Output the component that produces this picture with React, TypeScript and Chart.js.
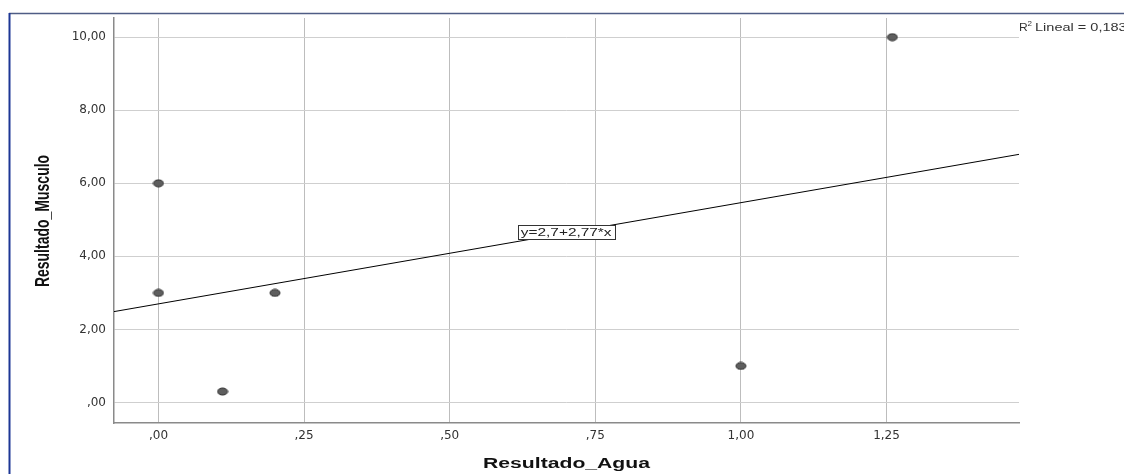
import React, { useEffect, useRef } from "react";
import { Chart, registerables } from "chart.js";

Chart.register(...registerables);

// Data
const aguaValues = [0, 0, 0.2, 0.11, 1.0, 1.26];
const musculoValues = [6, 3, 3, 0.3, 1.0, 10];

const xTicks = [0, 0.25, 0.5, 0.75, 1.0, 1.25];
const xTickLabels = [",00", ",25", ",50", ",75", "1,00", "1,25"];
const yTicks = [0, 2, 4, 6, 8, 10];
const yTickLabels = [",00", "2,00", "4,00", "6,00", "8,00", "10,00"];

const xRange = [-0.0764, 1.4775];
const yRange = [-0.561, 10.525];

const fitIntercept = 2.7;
const fitSlope = 2.77;
const fitLabel = "y=2,7+2,77*x";
const fitLabelAt = 0.7;
const r2Text = "Lineal = 0,183";

const xTitle = "Resultado_Agua";
const yTitle = "Resultado_Musculo";

function makeDot(): HTMLCanvasElement {
  const c = document.createElement("canvas");
  c.width = 12;
  c.height = 9;
  const g = c.getContext("2d")!;
  g.beginPath();
  g.ellipse(6, 4.5, 5, 3.5, 0, 0, Math.PI * 2);
  g.fillStyle = "#5e5e5e";
  g.fill();
  g.lineWidth = 1;
  g.strokeStyle = "#2c2c2c";
  g.stroke();
  return c;
}

const decor = {
  id: "decor",
  beforeDraw(chart: any) {
    const ctx = chart.ctx as CanvasRenderingContext2D;
    ctx.save();
    ctx.fillStyle = "#ffffff";
    ctx.fillRect(0, 0, chart.width, chart.height);
    ctx.lineWidth = 1.5;
    ctx.strokeStyle = "#4f5d85";
    ctx.beginPath();
    ctx.moveTo(9, 13.5);
    ctx.lineTo(chart.width, 13.5);
    ctx.stroke();
    ctx.lineWidth = 2;
    ctx.strokeStyle = "#1d3795";
    ctx.beginPath();
    ctx.moveTo(9.5, 13);
    ctx.lineTo(9.5, chart.height);
    ctx.stroke();
    ctx.restore();
  },
  afterDraw(chart: any) {
    const ctx = chart.ctx as CanvasRenderingContext2D;
    const area = chart.chartArea;
    const xs = chart.scales.x;
    const ys = chart.scales.y;

    // X title
    ctx.save();
    ctx.fillStyle = "#111";
    ctx.font = 'bold 14px "Liberation Sans"';
    const wX = ctx.measureText(xTitle).width;
    ctx.translate((area.left + area.right) / 2, 468);
    ctx.scale(167 / wX, 1);
    ctx.textAlign = "center";
    ctx.textBaseline = "alphabetic";
    ctx.fillText(xTitle, 0, 0);
    ctx.restore();

    // Y title
    ctx.save();
    ctx.fillStyle = "#111";
    ctx.font = 'bold 14px "Liberation Sans"';
    ctx.translate(49, 221);
    ctx.scale(1.4, 1);
    ctx.rotate(-Math.PI / 2);
    ctx.textAlign = "center";
    ctx.textBaseline = "alphabetic";
    ctx.fillText(yTitle, 0, 0);
    ctx.restore();

    // Equation box
    ctx.save();
    ctx.font = '11px "Liberation Sans"';
    const sx = 1.4;
    const tw = ctx.measureText(fitLabel).width * sx;
    const cx = xs.getPixelForValue(fitLabelAt);
    const cy = ys.getPixelForValue(fitIntercept + fitSlope * fitLabelAt) - 1;
    const bw = tw + 6;
    const bh = 14;
    ctx.fillStyle = "#fff";
    ctx.fillRect(Math.round(cx - bw / 2) + 0.5, Math.round(cy - bh / 2) + 0.5, Math.round(bw), bh);
    ctx.strokeStyle = "#333";
    ctx.lineWidth = 1;
    ctx.strokeRect(Math.round(cx - bw / 2) + 0.5, Math.round(cy - bh / 2) + 0.5, Math.round(bw), bh);
    ctx.fillStyle = "#222";
    ctx.translate(cx, cy + 1);
    ctx.scale(sx, 1);
    ctx.textAlign = "center";
    ctx.textBaseline = "middle";
    ctx.fillText(fitLabel, 0, 0);
    ctx.restore();

    // R² label
    ctx.save();
    ctx.fillStyle = "#333";
    ctx.textBaseline = "alphabetic";
    ctx.textAlign = "left";
    ctx.font = '11px "Liberation Sans"';
    ctx.save();
    ctx.translate(area.right, 31);
    ctx.scale(1.1, 1);
    ctx.fillText("R", 0, 0);
    ctx.restore();
    ctx.font = '8px "Liberation Sans"';
    ctx.fillText("2", area.right + 8.5, 26);
    ctx.font = '11px "Liberation Sans"';
    ctx.translate(area.right + 16, 31);
    ctx.scale(1.32, 1);
    ctx.fillText(r2Text, 0, 0);
    ctx.restore();
  },
};

export default function App() {
  const ref = useRef<HTMLCanvasElement | null>(null);

  useEffect(() => {
    if (!ref.current) return;
    const dot = makeDot();
    const points = aguaValues.map((x, i) => ({ x, y: musculoValues[i] }));
    const fitLine = xRange.map((x) => ({ x, y: fitIntercept + fitSlope * x }));

    const chart = new Chart(ref.current, {
      type: "scatter",
      data: {
        datasets: [
          {
            label: yTitle,
            data: points,
            pointStyle: dot as any,
            pointRadius: 5,
            backgroundColor: "#5e5e5e",
            borderColor: "#2c2c2c",
            order: 0,
          },
          {
            label: fitLabel,
            data: fitLine,
            showLine: true,
            borderColor: "#000",
            borderWidth: 1,
            pointRadius: 0,
            order: 1,
          } as any,
        ],
      },
      options: {
        responsive: false,
        animation: false,
        devicePixelRatio: 1,
        events: [],
        layout: { padding: { top: 18, right: 105, left: 0, bottom: 0 } },
        plugins: {
          legend: { display: false },
          tooltip: { enabled: false },
        },
        scales: {
          x: {
            type: "linear",
            min: xRange[0],
            max: xRange[1],
            afterBuildTicks: (s: any) => {
              s.ticks = xTicks.map((v) => ({ value: v }));
            },
            afterFit: (s: any) => {
              s.height = 51;
            },
            grid: { color: "#bdbdbd", lineWidth: 1, drawTicks: false },
            border: { display: true, color: "#8a8a8a", width: 1.5 },
            ticks: {
              padding: 6,
              color: "#333",
              font: { family: "DejaVu Sans", size: 12 },
              autoSkip: false,
              maxRotation: 0,
              callback: (_v: any, i: number) => xTickLabels[i] ?? "",
            },
          },
          y: {
            type: "linear",
            min: yRange[0],
            max: yRange[1],
            afterBuildTicks: (s: any) => {
              s.ticks = yTicks.map((v) => ({ value: v }));
            },
            afterFit: (s: any) => {
              s.width = 114;
            },
            grid: { color: "#cfcfcf", lineWidth: 1, drawTicks: false },
            border: { display: true, color: "#8a8a8a", width: 1.5 },
            ticks: {
              padding: 8,
              color: "#333",
              font: { family: "DejaVu Sans", size: 12 },
              autoSkip: false,
              callback: (_v: any, i: number) => yTickLabels[i] ?? "",
            },
          },
        },
      },
      plugins: [decor],
    });
    return () => chart.destroy();
  }, []);

  return (
    <div style={{ position: "absolute", left: 0, top: 0 }}>
      <canvas ref={ref} width={1124} height={474} style={{ display: "block", width: 1124, height: 474 }} />
    </div>
  );
}
